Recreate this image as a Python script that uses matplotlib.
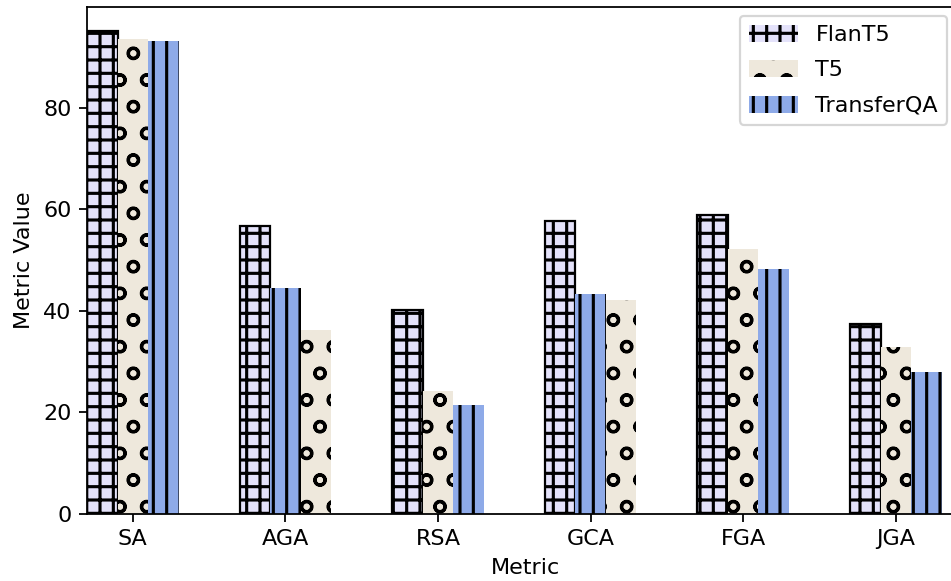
import matplotlib
matplotlib.use("Agg")
import matplotlib.pyplot as plt
from matplotlib.patches import Patch
import numpy as np

plt.rcParams["hatch.linewidth"] = 1.4

categories = ["SA", "AGA", "RSA", "GCA", "FGA", "JGA"]
models = ["FlanT5", "T5", "TransferQA"]
flant5 = [95.0, 56.7, 40.1, 57.6, 58.9, 37.4]
t5 = [93.5, 36.2, 24.2, 42.1, 52.1, 32.8]
transferqa = [93.1, 44.5, 21.4, 43.3, 48.2, 27.9]

colors = {"FlanT5": "#E4E2FA", "T5": "#EEE8DC", "TransferQA": "#8EAAE8"}
hatches = {"FlanT5": "++", "T5": "o", "TransferQA": "||"}
edge_lw = {"FlanT5": 1.0, "T5": 0.0, "TransferQA": 0.0}

values = {"FlanT5": flant5, "T5": t5, "TransferQA": transferqa}

W, H, DPI = 951, 581, 160
fig = plt.figure(figsize=(W / DPI, H / DPI), dpi=DPI)
ax = fig.add_axes([87 / W, (H - 513.5) / H, 877.5 / W, (513.5 - 7.3) / H])

width = 0.2
x = np.arange(len(categories))
for i, cat in enumerate(categories):
    vals = [(m, values[m][i]) for m in models]
    vals.sort(key=lambda t: -t[1])
    for rank, (m, v) in enumerate(vals):
        ax.bar(x[i] + (rank - 1) * width, v, width, color=colors[m],
               hatch=hatches[m], edgecolor="black", linewidth=edge_lw[m])

ax.set_xlim(-0.3, 5.45)
ax.set_xticks(x)
ax.set_xticklabels(categories)
ax.set_xlabel("Metric")
ax.set_ylabel("Metric Value")

handles = [Patch(facecolor=colors[m], hatch=hatches[m], edgecolor="black",
                 linewidth=0, label=m) for m in models]
fig.legend(handles=handles, loc="upper right", bbox_to_anchor=(947 / W, 1 - 16 / H),
           bbox_transform=fig.transFigure, borderaxespad=0,
           labelspacing=0.68, handlelength=2.2, handleheight=0.8)

fig.savefig("out.png", dpi=DPI)
